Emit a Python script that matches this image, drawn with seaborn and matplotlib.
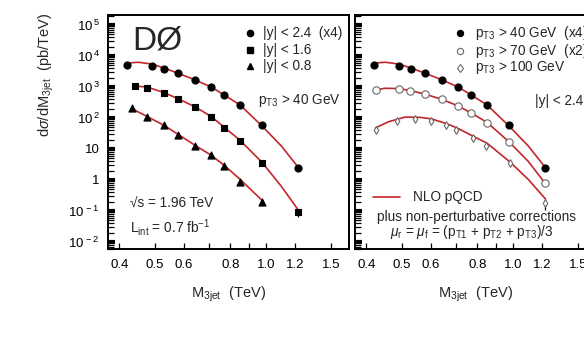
import math
import matplotlib
matplotlib.use("Agg")
import matplotlib.pyplot as plt
import matplotlib.ticker as mticker
import seaborn as sns

# Values: M3jet in TeV, dsigma/dM3jet in pb/TeV

# left panel - pT3 > 40 GeV, rapidity regions
m_y24 = [0.420, 0.491, 0.529, 0.577, 0.642, 0.710, 0.771, 0.851, 0.976, 1.222]
xs_y24 = [5100, 4800, 3800, 2800, 1700, 1000, 550, 260, 59, 2.5]
err_y24 = [0, 0, 0, 0, 0, 0, 0, 0, 0, 0.3]

m_y16 = [0.441, 0.476, 0.529, 0.577, 0.642, 0.710, 0.771, 0.851, 0.976, 1.222]
xs_y16 = [1070, 930, 650, 410, 225, 107, 48, 18, 3.5, 0.09]
err_y16 = [0, 0, 0, 0, 0, 0, 0, 0, 0, 0.025]

m_y08 = [0.433, 0.476, 0.529, 0.577, 0.642, 0.710, 0.771, 0.851, 0.976]
xs_y08 = [210, 107, 59, 28, 12.6, 6.5, 2.8, 0.87, 0.195]
err_y08 = [0, 0, 0, 0, 0, 0, 0, 0, 0.03]

# right panel - |y| < 2.4, pT3 thresholds (pT3 > 40 is the same set as |y| < 2.4)
m_pt70 = [0.424, 0.491, 0.526, 0.577, 0.644, 0.708, 0.771, 0.848, 0.974, 1.225]
xs_pt70 = [790, 860, 740, 590, 410, 245, 145, 69, 17, 0.79]
err_pt70 = [0, 0, 0, 0, 0, 0, 0, 0, 0, 0.1]

m_pt100 = [0.424, 0.485, 0.542, 0.599, 0.658, 0.701, 0.779, 0.845, 0.982, 1.225]
xs_pt100 = [41, 80, 93, 80, 59, 41, 22.5, 12.6, 3.5, 0.18]
err_pt100 = [0, 0, 0, 0, 0, 0, 0, 0, 0, 0.07]

# NLO pQCD + non-perturbative corrections (red curves)
nlo_m_y24 = [0.420, 0.450, 0.491, 0.529, 0.577, 0.642, 0.710, 0.771, 0.851, 0.976, 1.100, 1.222]
nlo_y24 = [5900, 6300, 5500, 4100, 2800, 1700, 1000, 550, 263, 55, 12.6, 2.6]

nlo_m_y16 = [0.441, 0.476, 0.529, 0.577, 0.642, 0.710, 0.771, 0.851, 0.976, 1.100, 1.222]
nlo_y16 = [1070, 1000, 660, 420, 230, 112, 50, 19, 3.7, 0.63, 0.11]

nlo_m_y08 = [0.433, 0.476, 0.529, 0.577, 0.642, 0.710, 0.771, 0.851, 0.976]
nlo_y08 = [200, 112, 58, 30, 13.2, 6.3, 2.95, 1.05, 0.22]

nlo_m_pt70 = [0.420, 0.450, 0.491, 0.529, 0.577, 0.642, 0.710, 0.771, 0.851, 0.976, 1.100, 1.222]
nlo_pt70 = [790, 910, 890, 760, 590, 400, 245, 145, 72, 17, 4.0, 0.79]

nlo_m_pt100 = [0.424, 0.460, 0.510, 0.560, 0.603, 0.662, 0.705, 0.779, 0.850, 0.982, 1.100, 1.225]
nlo_pt100 = [48, 76, 107, 105, 93, 65, 48, 26, 15.5, 3.8, 1.05, 0.245]

x_ticks = [0.4, 0.5, 0.6, 0.8, 1.0, 1.2, 1.5]
x_minor = [0.7, 0.9]
y_ticks = [1e-2, 1e-1, 1, 10, 1e2, 1e3, 1e4, 1e5]

red = "#c3262b"
grey = "#6a6a6a"
fs = 9.8

sns.set_style("ticks")
plt.rcParams["font.family"] = ["Liberation Sans", "DejaVu Sans"]
plt.rcParams["mathtext.fontset"] = "custom"
plt.rcParams["mathtext.rm"] = "Liberation Sans"
plt.rcParams["mathtext.it"] = "Liberation Sans:italic"
plt.rcParams["mathtext.sf"] = "Liberation Sans"

fig = plt.figure(figsize=(5.84, 3.38), dpi=100)
ax1 = fig.add_axes([0.185, 0.263, 0.4127, 0.6923])
ax2 = fig.add_axes([0.6079, 0.263, 0.4127, 0.6923])


def ylab(v, pos):
    if v == 1:
        return "1"
    if v == 10:
        return "10"
    e = int(round(math.log10(v)))
    return r"$10^{\,%d}$" % e


def style_axis(ax, labels=True):
    ax.set_xscale("log")
    ax.set_yscale("log")
    ax.set_xlim(0.373, 1.68)
    ax.set_ylim(10 ** -2.23, 10 ** 5.32)
    ax.xaxis.set_major_locator(mticker.FixedLocator(x_ticks))
    ax.xaxis.set_minor_locator(mticker.FixedLocator(x_minor))
    ax.xaxis.set_major_formatter(mticker.FormatStrFormatter("%.1f"))
    ax.xaxis.set_minor_formatter(mticker.NullFormatter())
    ax.yaxis.set_major_locator(mticker.FixedLocator(y_ticks))
    ax.yaxis.set_minor_locator(mticker.LogLocator(base=10, subs=range(2, 10), numticks=20))
    if labels:
        ax.yaxis.set_major_formatter(mticker.FuncFormatter(ylab))
    else:
        ax.yaxis.set_major_formatter(mticker.NullFormatter())
    ax.yaxis.set_minor_formatter(mticker.NullFormatter())
    ax.tick_params(axis="both", which="both", direction="in", colors="black",
                   labelsize=9.5, top=False, right=False)
    ax.tick_params(axis="y", which="major", length=5, width=3, pad=6)
    ax.tick_params(axis="y", which="minor", length=4, width=0.9)
    ax.tick_params(axis="x", which="major", length=4, width=0.9, pad=7)
    ax.tick_params(axis="x", which="minor", length=4, width=0.9)
    for s in ax.spines.values():
        s.set_visible(True)
        s.set_linewidth(1.4)
        s.set_color("black")
    ax.set_xlabel(r"M$_{\rm 3jet}$  (TeV)", fontsize=10.5, labelpad=10)
    ax.set_ylabel("")


def curve(ax, m, v):
    sns.lineplot(x=m, y=v, ax=ax, color=red, linewidth=1.2, sort=True,
                 estimator=None, zorder=2)


def points(ax, m, v, err, marker, size, face, edge):
    sns.scatterplot(x=m, y=v, ax=ax, marker=marker, s=size, color=face,
                    edgecolor=edge, linewidth=0.8, zorder=3)
    ax.errorbar(m, v, yerr=err, fmt="none", ecolor="black", elinewidth=0.9,
                capsize=0, zorder=2.5)


# left panel
curve(ax1, nlo_m_y24, nlo_y24)
curve(ax1, nlo_m_y16, nlo_y16)
curve(ax1, nlo_m_y08, nlo_y08)
points(ax1, m_y24, xs_y24, err_y24, "o", 26, "black", "black")
points(ax1, m_y16, xs_y16, err_y16, "s", 22, "black", "black")
points(ax1, m_y08, xs_y08, err_y08, "^", 26, "black", "black")
style_axis(ax1, labels=True)

ax1.text(0.10, 0.889, "DØ", transform=ax1.transAxes, fontsize=24,
         va="center", ha="left")
leg_rows = [("o", r"|y| < 2.4  (x4)", 0.923), ("s", r"|y| < 1.6", 0.850),
            ("^", r"|y| < 0.8", 0.782)]
for mk, lab, yy in leg_rows:
    ax1.plot([0.589], [yy], marker=mk, markersize=4.5, color="black",
             linestyle="none", transform=ax1.transAxes)
    ax1.text(0.643, yy, lab, transform=ax1.transAxes, fontsize=fs, va="center")
ax1.text(0.622, 0.635, r"p$_{\rm T3}$ > 40 GeV", transform=ax1.transAxes,
         fontsize=fs, va="center")
ax1.text(0.091, 0.192, "√s = 1.96 TeV", transform=ax1.transAxes,
         fontsize=fs, va="center")
ax1.text(0.091, 0.094, r"L$_{\rm int}$ = 0.7 fb$^{-1}$", transform=ax1.transAxes,
         fontsize=fs, va="center")

# right panel
curve(ax2, nlo_m_y24, nlo_y24)
curve(ax2, nlo_m_pt70, nlo_pt70)
curve(ax2, nlo_m_pt100, nlo_pt100)
points(ax2, m_y24, xs_y24, err_y24, "o", 26, "black", "black")
points(ax2, m_pt70, xs_pt70, err_pt70, "o", 28, "white", grey)
points(ax2, m_pt100, xs_pt100, err_pt100, "d", 15, "white", grey)
style_axis(ax2, labels=False)

leg2 = [("o", "black", "black", r"p$_{\rm T3}$ > 40 GeV  (x4)", 0.923),
        ("o", "white", grey, r"p$_{\rm T3}$ > 70 GeV  (x2)", 0.846),
        ("d", "white", grey, r"p$_{\rm T3}$ > 100 GeV", 0.774)]
for mk, fc, ec, lab, yy in leg2:
    ax2.plot([0.436], [yy], marker=mk, markersize=4.5, markerfacecolor=fc,
             markeredgecolor=ec, markeredgewidth=0.8, linestyle="none",
             transform=ax2.transAxes)
    ax2.text(0.498, yy, lab, transform=ax2.transAxes, fontsize=fs, va="center")
ax2.text(0.747, 0.635, r"|y| < 2.4", transform=ax2.transAxes, fontsize=fs,
         va="center")
ax2.plot([0.075, 0.187], [0.222, 0.222], color=red, linewidth=1.2,
         transform=ax2.transAxes)
ax2.text(0.241, 0.222, "NLO pQCD", transform=ax2.transAxes, fontsize=fs,
         va="center")
ax2.text(0.091, 0.137, "plus non-perturbative corrections",
         transform=ax2.transAxes, fontsize=fs, va="center")
ax2.text(0.145, 0.073,
         r"$\mu_{\rm r}$ = $\mu_{\rm f}$ = (p$_{\rm T1}$ + p$_{\rm T2}$ + p$_{\rm T3}$)/3",
         transform=ax2.transAxes, fontsize=fs, va="center")

fig.text(0.08, 0.778, r"d$\sigma$/dM$_{\rm 3jet}$  (pb/TeV)", rotation=90,
         fontsize=10.5, ha="center", va="center")

fig.savefig("out.png", dpi=100)
